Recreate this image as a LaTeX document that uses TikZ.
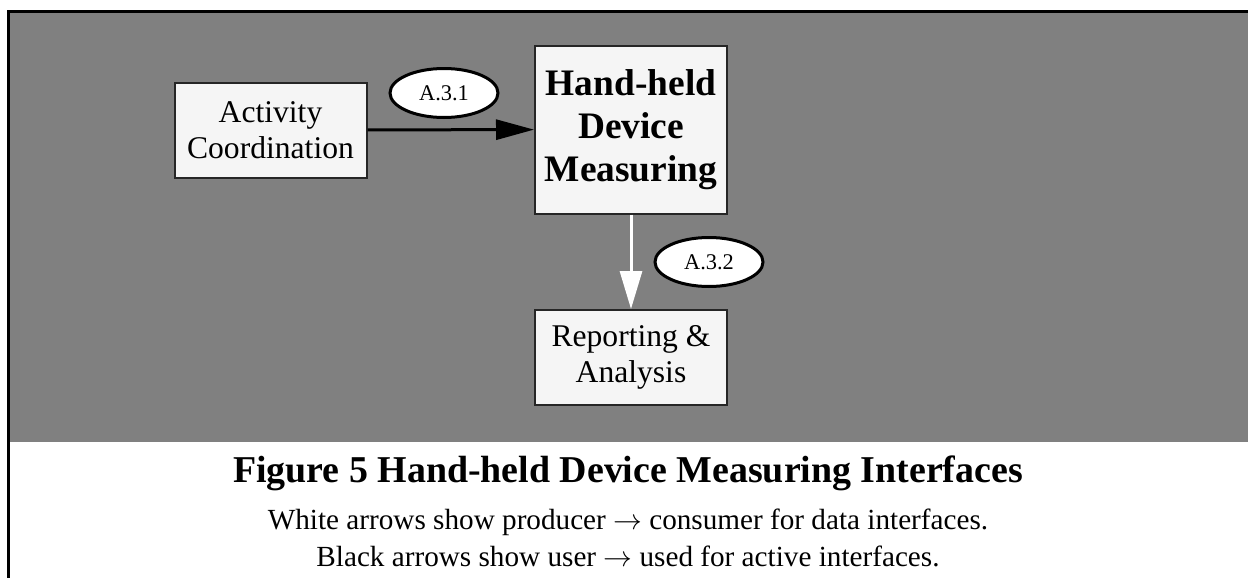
\documentclass[tikz,border=0pt]{standalone}
\usepackage{fontspec}
\setmainfont{Liberation Serif}
\usetikzlibrary{arrows.meta}
\usetikzlibrary{shapes}
\definecolor{panel}{HTML}{808080}
\definecolor{boxfill}{HTML}{F5F5F5}

\begin{document}
\begin{tikzpicture}[x=0.5pt,y=-0.5pt]
      \tikzstyle{every node}=[inner sep=0pt]
      \tikzstyle{unit}=[draw=black!85,line width=1pt,fill=boxfill,align=center,minimum width=96pt,font=\fontsize{15.8}{18}\selectfont]
      \tikzstyle{tag}=[ellipse,draw,line width=1.5pt,fill=white,minimum width=54pt,minimum height=24.5pt,font=\fontsize{11.2}{13}\selectfont]
      \useasboundingbox (0,0) rectangle (1248,578);

      % grey panel and frame
      \fill[panel] (9,12) rectangle (1248,442);
      \draw[line width=1.5pt] (8,578) -- (8,11.5) -- (1248,11.5);

      \node[unit,minimum height=47.5pt] (coord) at (270.5,130) {Activity\\Coordination};
      \node[unit,minimum height=84pt,font=\bfseries\fontsize{18.7}{21.5}\selectfont] (hhdm) at (631,129.5) {Hand-held\\Device\\Measuring};
      \node[unit,minimum height=47.5pt] (report) at (631,357.5) {Reporting \&\\Analysis};

      \node[tag] (t1) at (444,93) {A.3.1};
      \node[tag] (t2) at (709,262) {A.3.2};

      \draw[line width=1.5pt,-{Triangle[length=19pt,width=10pt]}] (coord) -- (hhdm);
      \draw[white,line width=1.5pt,-{Triangle[length=19pt,width=11pt]}] (hhdm) -- (report);

      % caption
      \node[anchor=base,font=\bfseries\fontsize{18.95}{21}\selectfont] (title) at (628,482) {Figure 5 Hand-held Device Measuring Interfaces};
      \node[anchor=base,font=\fontsize{14.6}{18}\selectfont] (noteA) at (628,529) {White arrows show producer $\rightarrow$ consumer for data interfaces.};
      \node[anchor=base,font=\fontsize{14.6}{18}\selectfont] (noteB) at (628,566) {Black arrows show user $\rightarrow$ used for active interfaces.};
    \end{tikzpicture}
\end{document}
